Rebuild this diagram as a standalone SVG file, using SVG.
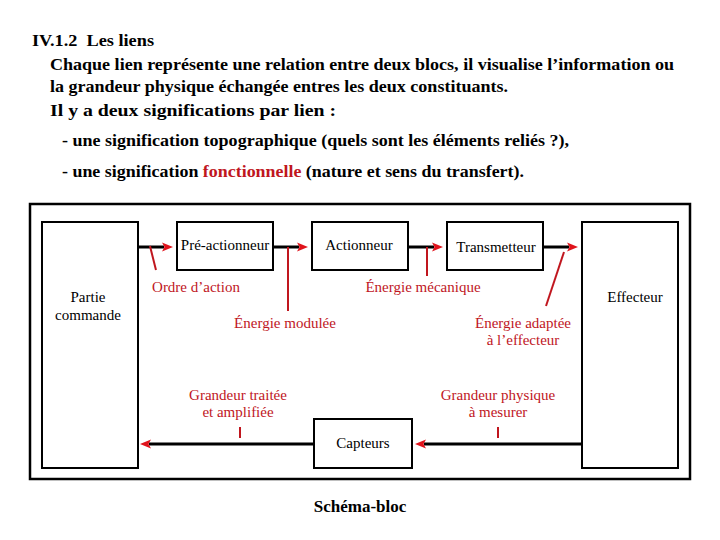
<svg xmlns="http://www.w3.org/2000/svg" width="720" height="540" viewBox="0 0 720 540">
<defs>
<style>
.hd{font-family:"Liberation Serif","Times New Roman",serif;font-weight:bold;font-size:17px;fill:#000}
.bx{fill:#fff;stroke:#000;stroke-width:2}
.lb{font-family:"Liberation Serif","Times New Roman",serif;font-size:15px;fill:#000;text-anchor:middle}
.rd{font-family:"Liberation Serif","Times New Roman",serif;font-size:15px;fill:#c0161e;text-anchor:middle}
.ln{stroke:#000;stroke-width:3;fill:none}
.rl{stroke:#c0161e;stroke-width:2;fill:none}
</style>
<marker id="ah" markerUnits="userSpaceOnUse" markerWidth="14" markerHeight="12" viewBox="0 -6 14 12" refX="2" refY="0" orient="auto">
<path d="M0,-4.5 L11,0 L0,4.5 L2.5,0 z" fill="#e0141c"/>
</marker>
</defs>
<rect width="720" height="540" fill="#fff"/>
<g id="header">
<text class="hd" x="32" y="46" textLength="122" lengthAdjust="spacingAndGlyphs" xml:space="preserve">IV.1.2  Les liens</text>
<text class="hd" x="50" y="70" textLength="624" lengthAdjust="spacingAndGlyphs">Chaque lien représente une relation entre deux blocs, il visualise l’information ou</text>
<text class="hd" x="50" y="92" textLength="458" lengthAdjust="spacingAndGlyphs">la grandeur physique échangée entres les deux constituants.</text>
<text class="hd" x="50" y="116" textLength="286" lengthAdjust="spacingAndGlyphs">Il y a deux significations par lien :</text>
<text class="hd" x="62" y="146" textLength="507" lengthAdjust="spacingAndGlyphs">- une signification topographique (quels sont les éléments reliés ?),</text>
<text class="hd" x="62" y="177" textLength="462" lengthAdjust="spacingAndGlyphs">- une signification <tspan fill="#c0161e">fonctionnelle</tspan> (nature et sens du transfert).</text>
</g>
<rect id="frame" x="30" y="204" width="660" height="275" fill="none" stroke="#000" stroke-width="2.5"/>
<g id="connectors">
<line class="ln" x1="138" y1="247" x2="164" y2="247" marker-end="url(#ah)"/>
<line class="ln" x1="273" y1="247" x2="299" y2="247" marker-end="url(#ah)"/>
<line class="ln" x1="408" y1="247" x2="434" y2="247" marker-end="url(#ah)"/>
<line class="ln" x1="543" y1="247" x2="569" y2="247" marker-end="url(#ah)"/>
<line class="ln" x1="582" y1="444" x2="424" y2="444" marker-end="url(#ah)"/>
<line class="ln" x1="314" y1="444" x2="149" y2="444" marker-end="url(#ah)"/>
</g>
<g id="annotations">
<line class="rl" x1="150" y1="246" x2="156" y2="270"/>
<line class="rl" x1="288" y1="247" x2="288" y2="311"/>
<line class="rl" x1="427" y1="247" x2="427" y2="276"/>
<line class="rl" x1="564" y1="252" x2="546" y2="306"/>
<line class="rl" x1="240" y1="427" x2="240" y2="438"/>
<line class="rl" x1="498" y1="427" x2="498" y2="438"/>
<text class="rd" x="196" y="292">Ordre d’action</text>
<text class="rd" x="423" y="292">Énergie mécanique</text>
<text class="rd" x="285" y="328">Énergie modulée</text>
<text class="rd" x="523" y="328">Énergie adaptée</text>
<text class="rd" x="523" y="345">à l’effecteur</text>
<text class="rd" x="238" y="400">Grandeur traitée</text>
<text class="rd" x="238" y="417">et amplifiée</text>
<text class="rd" x="498" y="400">Grandeur physique</text>
<text class="rd" x="498" y="417">à mesurer</text>
</g>
<g id="partie-commande">
<rect class="bx" x="42" y="222" width="96" height="246"/>
<text class="lb" x="88" y="302">Partie</text>
<text class="lb" x="88" y="320">commande</text>
</g>
<g id="pre-actionneur">
<rect class="bx" x="177" y="222" width="96" height="48"/>
<text class="lb" x="225" y="250">Pré-actionneur</text>
</g>
<g id="actionneur">
<rect class="bx" x="312" y="222" width="96" height="48"/>
<text class="lb" x="359" y="250">Actionneur</text>
</g>
<g id="transmetteur">
<rect class="bx" x="447" y="222" width="96" height="48"/>
<text class="lb" x="496" y="252">Transmetteur</text>
</g>
<g id="effecteur">
<rect class="bx" x="582" y="222" width="96" height="246"/>
<text class="lb" x="635" y="302">Effecteur</text>
</g>
<g id="capteurs">
<rect class="bx" x="314" y="419" width="98" height="49"/>
<text class="lb" x="363" y="448">Capteurs</text>
</g>
<text class="hd" x="360" y="512" text-anchor="middle">Schéma-bloc</text>
</svg>
